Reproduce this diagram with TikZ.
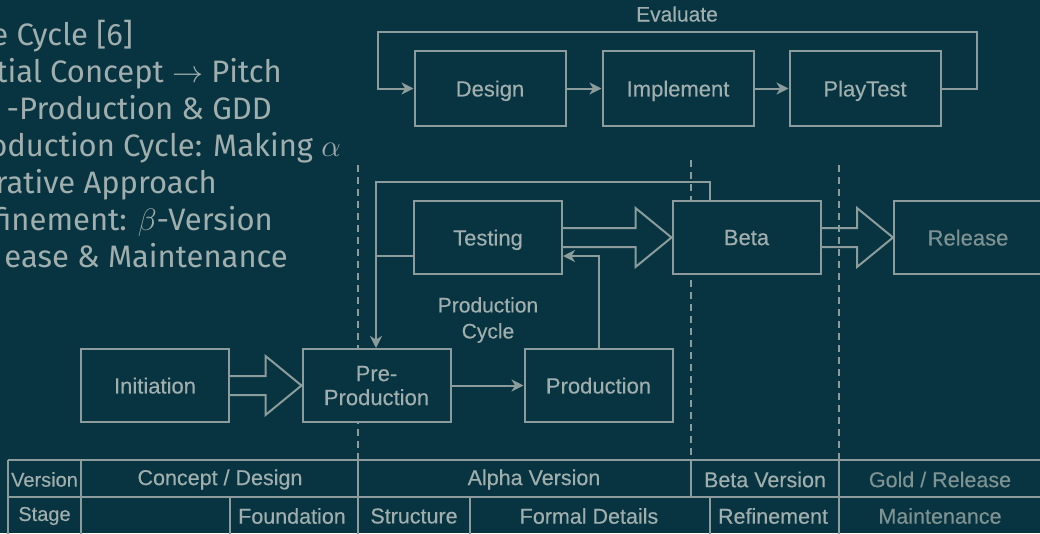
\RequirePackage{fix-cm}
\documentclass[tikz,border=0pt]{standalone}
\usepackage{fontspec}
\setmainfont{Fira Sans}
\newfontfamily\arialf[FakeBold=0.3]{Liberation Sans}
\usetikzlibrary{arrows.meta,calc}
\definecolor{bgc}{HTML}{073440}
\definecolor{linec}{HTML}{8C9C9C}
\definecolor{boxtxt}{HTML}{A0AEAE}
\definecolor{dimtxt}{HTML}{7E9292}
\definecolor{lefttxt}{HTML}{A0AEAE}
\tikzset{
  box/.style={draw=linec, line width=2pt, minimum width=148pt, minimum height=73pt, inner sep=0pt,
    text=boxtxt, font=\arialf\fontsize{22}{24}\selectfont, align=center, text depth=0pt},
  conn/.style={draw=linec, line width=2pt},
  arr/.style={conn, -{Stealth[length=12pt,width=12pt,inset=3.5pt]}},
  hollow/.style={draw=linec, line width=2pt, line join=miter},
  phase/.style={draw=linec, line width=2pt, dash pattern=on 7pt off 5pt},
  tbl/.style={draw=linec, line width=2pt},
  ttxt/.style={text=boxtxt, font=\arialf\fontsize{21.5}{24}\selectfont, inner sep=0pt},
  ltxt/.style={text=lefttxt, font=\fontsize{31}{37}\selectfont, inner sep=0pt, anchor=base east},
  lab/.style={text=boxtxt, font=\arialf\fontsize{21}{26}\selectfont, inner sep=0pt, align=center}
}
\begin{document}
\begin{tikzpicture}[x=1pt,y=-1pt]
\fill[bgc] (0,0) rectangle (1040,533);
\useasboundingbox (0,0) rectangle (1040,533);

% left text
\node[ltxt] (l1) at (133,45) {e Cycle [6]};
\node[ltxt] (l2) at (282,82) {tial Concept $\rightarrow$ Pitch};
\node[ltxt] (l3) at (272,119) {-Production \& GDD};
\node[ltxt] (l4) at (341,156) {oduction Cycle: Making $\alpha$};
\node[ltxt] (l5) at (217,193) {rative Approach};
\node[ltxt] (l6) at (273,230) {finement: $\beta$-Version};
\node[ltxt] (l7) at (288,267) {ease \& Maintenance};

% phase separators
\coordinate (d1t) at (358,165); \coordinate (d1b) at (358,460);
\coordinate (d2t) at (691,160); \coordinate (d2b) at (691,460);
\coordinate (d3t) at (839,165); \coordinate (d3b) at (839,460);
\draw[phase] (d1t) -- (d1b);
\draw[phase] (d2t) -- (d2b);
\draw[phase] (d3t) -- (d3b);

% top loop
\node[box, minimum width=151pt, minimum height=75pt] (design) at (490,88.5) {Design};
\node[box, minimum width=151pt, minimum height=75pt] (implement) at (678,88.5) {Implement};
\node[box, minimum width=151pt, minimum height=75pt] (playtest) at (865,88.5) {PlayTest};
\node[lab] (evaluate) at (677,14) {Evaluate};
\coordinate (evR) at (977,32);
\coordinate (evL) at (378,32);
\draw[arr] (design) -- (implement);
\draw[arr] (implement) -- (playtest);
\draw[arr] (playtest.east) -| (evR) -- (evL) |- (design.west);

% middle
\node[box, fill=bgc] (testing) at (488,237.5) {Testing};
\node[box, fill=bgc] (beta) at (746.5,237.5) {Beta};
\node[box, fill=bgc, text=dimtxt] (release) at (968,237.5) {Release};
\node[box] (initiation) at (155,385.5) {Initiation};
\node[box, fill=bgc] (preprod) at (376.5,385.5) {Pre-\\Production};
\node[box, fill=bgc] (production) at (598.5,385.5) {Production};
\node[lab] (pcycle) at (488,320) {Production\\Cycle};

\coordinate (lpR) at (710,182);
\coordinate (lpL) at (376,182);
\coordinate (tj) at (376,256);
\coordinate (pt) at (598,256);
\draw[arr] (lpR |- beta.north) -- (lpR) -- (lpL) -- (lpL |- preprod.north);
\draw[conn] (testing.west |- tj) -- (tj);
\draw[arr] (production.north) |- (testing.east |- pt);
\draw[arr] (preprod) -- (production);

% hollow arrows
\draw[hollow] ($(testing.east)+(0,-9.5)$) -- ($(beta.west)+(-36,-9.5)$) -- ($(beta.west)+(-36,-29.5)$)
  -- (beta.west) -- ($(beta.west)+(-36,29.5)$) -- ($(beta.west)+(-36,9.5)$) -- ($(testing.east)+(0,9.5)$);
\draw[hollow] ($(beta.east)+(0,-9.5)$) -- ($(release.west)+(-36,-9.5)$) -- ($(release.west)+(-36,-29.5)$)
  -- (release.west) -- ($(release.west)+(-36,29.5)$) -- ($(release.west)+(-36,9.5)$) -- ($(beta.east)+(0,9.5)$);
\draw[hollow] ($(initiation.east)+(0,-9.5)$) -- ($(preprod.west)+(-36,-9.5)$) -- ($(preprod.west)+(-36,-29.5)$)
  -- (preprod.west) -- ($(preprod.west)+(-36,29.5)$) -- ($(preprod.west)+(-36,9.5)$) -- ($(initiation.east)+(0,9.5)$);

% table
\draw[tbl] (8,460) -- (1045,460);
\draw[tbl] (8,497) -- (1045,497);
\draw[tbl] (8,460) -- (8,540);
\draw[tbl] (81,460) -- (81,540);
\draw[tbl] (358,460) -- (358,540);
\draw[tbl] (691,460) -- (691,497);
\draw[tbl] (839,460) -- (839,540);
\draw[tbl] (230,497) -- (230,540);
\draw[tbl] (470,497) -- (470,540);
\draw[tbl] (710,497) -- (710,540);

\node[ttxt, font=\arialf\fontsize{20}{24}\selectfont] (tv) at (44.5,479.5) {Version};
\node[ttxt] (tcd) at (220,479.5) {Concept / Design};
\node[ttxt] (tal) at (534,479.5) {Alpha Version};
\node[ttxt] (tbv) at (765,479.5) {Beta Version};
\node[ttxt, text=dimtxt] (tgr) at (940,479.5) {Gold / Release};
\node[ttxt, font=\arialf\fontsize{20}{24}\selectfont] (ts) at (44.5,516) {Stage};
\node[ttxt] (tf) at (292,516) {Foundation};
\node[ttxt] (tst) at (414,516) {Structure};
\node[ttxt] (tfd) at (589,516) {Formal Details};
\node[ttxt] (tr) at (773,516) {Refinement};
\node[ttxt, text=dimtxt] (tm) at (940,516) {Maintenance};
\end{tikzpicture}
\end{document}
